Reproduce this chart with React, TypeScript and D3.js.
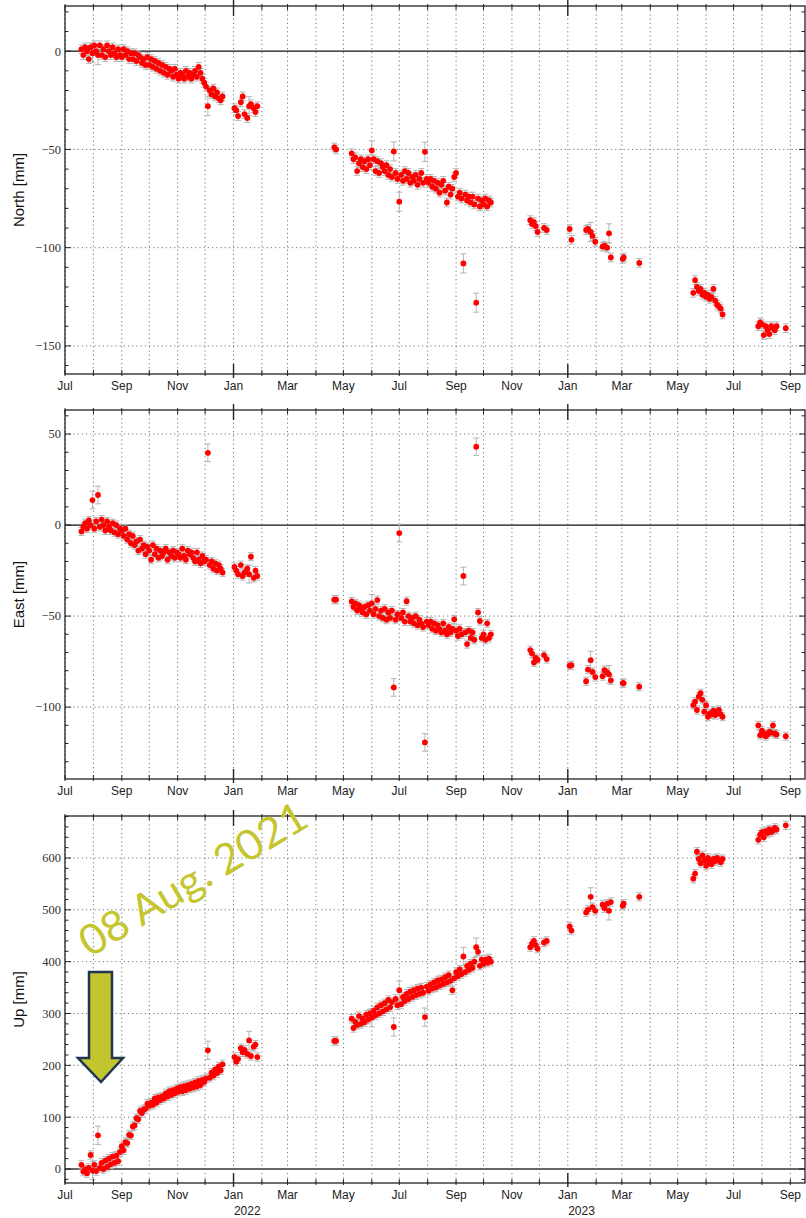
import React from 'react';
import * as d3 from 'd3';

// daily GNSS solutions (shared epochs for the three components)
const dates = [
  // 2021
  '2021-07-19', '2021-07-21', '2021-07-23', '2021-07-25', '2021-07-27', '2021-07-29', '2021-07-31',
  '2021-08-02', '2021-08-04', '2021-08-06', '2021-08-08', '2021-08-10', '2021-08-12', '2021-08-14', '2021-08-16',
  '2021-08-18', '2021-08-20', '2021-08-22', '2021-08-24', '2021-08-26', '2021-08-28', '2021-08-30',
  '2021-09-01', '2021-09-03', '2021-09-05', '2021-09-07', '2021-09-09', '2021-09-11', '2021-09-13', '2021-09-15',
  '2021-09-17', '2021-09-19', '2021-09-21', '2021-09-23', '2021-09-25', '2021-09-27', '2021-09-29',
  '2021-10-01', '2021-10-03', '2021-10-05', '2021-10-07', '2021-10-09', '2021-10-11', '2021-10-13', '2021-10-15',
  '2021-10-17', '2021-10-19', '2021-10-21', '2021-10-23', '2021-10-25', '2021-10-27', '2021-10-29', '2021-10-31',
  '2021-11-02', '2021-11-04', '2021-11-06', '2021-11-08', '2021-11-10', '2021-11-12', '2021-11-14', '2021-11-16',
  '2021-11-18', '2021-11-20', '2021-11-22', '2021-11-24', '2021-11-26', '2021-11-28', '2021-11-30',
  '2021-12-02', '2021-12-04', '2021-12-06', '2021-12-08', '2021-12-10', '2021-12-12', '2021-12-14', '2021-12-16',
  '2021-12-18', '2021-12-20',
  // 2022
  '2022-01-02', '2022-01-04', '2022-01-06', '2022-01-09', '2022-01-11', '2022-01-13', '2022-01-16', '2022-01-18',
  '2022-01-20', '2022-01-23', '2022-01-25', '2022-01-27',
  '2022-04-21', '2022-04-23',
  '2022-05-10', '2022-05-12', '2022-05-14', '2022-05-16', '2022-05-18', '2022-05-20', '2022-05-22', '2022-05-24',
  '2022-05-26', '2022-05-28', '2022-05-30',
  '2022-06-01', '2022-06-03', '2022-06-05', '2022-06-07', '2022-06-09', '2022-06-11', '2022-06-13', '2022-06-15',
  '2022-06-17', '2022-06-19', '2022-06-21', '2022-06-23', '2022-06-25', '2022-06-27', '2022-06-29',
  '2022-07-01', '2022-07-03', '2022-07-05', '2022-07-07', '2022-07-09', '2022-07-11', '2022-07-13', '2022-07-15',
  '2022-07-17', '2022-07-19', '2022-07-21', '2022-07-23', '2022-07-25', '2022-07-27', '2022-07-29', '2022-07-31',
  '2022-08-02', '2022-08-04', '2022-08-06', '2022-08-08', '2022-08-10', '2022-08-12', '2022-08-14', '2022-08-16',
  '2022-08-18', '2022-08-20', '2022-08-22', '2022-08-24', '2022-08-26', '2022-08-28', '2022-08-30',
  '2022-09-01', '2022-09-03', '2022-09-05', '2022-09-07', '2022-09-09', '2022-09-11', '2022-09-13', '2022-09-15',
  '2022-09-17', '2022-09-19', '2022-09-21', '2022-09-23', '2022-09-25', '2022-09-27', '2022-09-29',
  '2022-10-01', '2022-10-03', '2022-10-05', '2022-10-07', '2022-10-09',
  '2022-11-21', '2022-11-23', '2022-11-25', '2022-11-27', '2022-11-29',
  '2022-12-06', '2022-12-09',
  // 2023
  '2023-01-03', '2023-01-05', '2023-01-21', '2023-01-23', '2023-01-26', '2023-01-28', '2023-01-31',
  '2023-02-08', '2023-02-10', '2023-02-13', '2023-02-15', '2023-02-17',
  '2023-03-02', '2023-03-03', '2023-03-20',
  '2023-05-18', '2023-05-20', '2023-05-22', '2023-05-24', '2023-05-26', '2023-05-28', '2023-05-30',
  '2023-06-01', '2023-06-03', '2023-06-05', '2023-06-07', '2023-06-09', '2023-06-11', '2023-06-13', '2023-06-15',
  '2023-06-17', '2023-06-19',
  '2023-07-28', '2023-07-30',
  '2023-08-01', '2023-08-03', '2023-08-05', '2023-08-07', '2023-08-09', '2023-08-11', '2023-08-13', '2023-08-15',
  '2023-08-17', '2023-08-27'
];

const north = [
  1, -2, 2, 0, -4, 2, -1,
  3, 0, -2, 3, -2, 1, -3, 3, 0, -2, 2, -1, -3, 1, -2,
  -3, 1, -2, 0, -4, -1, -4, -1, -5, -2, -3, -6, -4, -7, -3,
  -7, -4, -8, -5, -9, -6, -10, -7, -11, -8, -12, -9, -10, -13, -9, -12,
  -14, -11, -12, -14, -10, -13, -11, -14, -12, -10, -13, -8, -11, -14, -16,
  -18, -28, -20, -22, -19, -23, -21, -24, -25, -23,
  -29, -30, -33, -26, -23, -32, -34, -28, -27, -29, -31, -28,
  -49, -50,
  -52, -55, -54, -61, -57, -55, -59, -56, -60, -55, -58,
  -50.5, -55, -61, -56, -62, -57, -59, -61, -58, -63, -60, -64, -51, -62, -65,
  -76.6, -63, -66, -61, -65, -62, -67, -64, -66, -63, -68, -65, -62, -67, -51.2, -65,
  -67, -65, -69, -66, -70, -67, -72, -68, -66, -71, -77, -69, -73, -70, -64,
  -62, -74, -72, -75, -108, -73, -76, -74, -77, -74, -78, -128, -75, -79, -76,
  -78, -75, -79, -76, -77,
  -86, -88, -87, -89, -92,
  -90, -91,
  -90.5, -96, -91, -90.5, -92, -94, -97,
  -99.5, -99, -100, -92.7, -105,
  -105.7, -105, -107.8,
  -123, -116.5, -120, -122, -121, -124, -123,
  -125, -124, -126, -125, -121, -127, -129, -130, -131, -134,
  -140, -138,
  -139, -144.5, -140, -142, -144, -140, -141, -142, -140, -141
];

const east = [
  -3.5, -1, 1, -2, 2.5, 0, 13.7,
  -2, 2, 16.5, -1, 3, 0, -3, 2, -1, -3, 1, -4, 0, -5, -2,
  -3, -6, -2, -8, -5, -10, -6, -11, -9, -14, -8, -13, -11, -16, -12,
  -14, -19, -11, -16, -13, -18, -14, -17, -15, -13, -19, -15, -17, -14, -18, -15,
  -16, -18, -13, -17, -19, -14, -16, -15, -18, -20, -15, -19, -21, -17, -20,
  -19, 39.7, -22, -20, -24, -21, -25, -22, -24, -26,
  -23, -25, -27, -22, -28, -26, -24, -27, -17.4, -29, -25, -28,
  -41, -41,
  -42, -45, -43, -47, -44, -46, -48, -45, -49, -44, -47,
  -43, -49, -46, -41.2, -50, -47, -51, -46, -52, -48, -51, -47, -89.2, -52, -49,
  -4.4, -51, -48, -53, -41.8, -50, -53, -51, -54, -50, -55, -52, -54, -56, -119.4, -53,
  -55, -53, -57, -54, -58, -55, -57, -59, -54, -58, -60, -56, -59, -57, -51.8,
  -58, -61, -57, -60, -28, -59, -65.4, -58, -62, -59, -63, 43, -48, -52.7, -62,
  -60, -63, -54, -62, -60,
  -68.7, -70.6, -75.5, -73, -74,
  -71.4, -73.6,
  -77.3, -77, -85.8, -79.4, -74.2, -80.7, -83.5,
  -83, -79.7, -81, -82, -85.3,
  -86.8, -86.8, -88.8,
  -98.9, -97, -101.6, -94.3, -92.4, -96, -102.5,
  -99, -105.3, -103.4, -104, -102, -104.4, -103, -101.6, -104, -105.3,
  -110, -115.4,
  -113, -114.5, -116, -115, -113.6, -114, -110, -114.5, -115, -116
];

const up = [
  8, -5, -1, -8, 2, 27, -3,
  8, -4, 65, 2, 12, 0, 16, 4, 20, 9, 24, 12, 26, 15, 33,
  44, 36, 52, 50, 66, 65, 82, 84, 98, 96, 112, 108, 115, 116, 126,
  122, 128, 124, 136, 128, 138, 133, 140, 136, 146, 140, 150, 143, 152, 146, 155,
  149, 158, 150, 160, 152, 162, 155, 164, 157, 167, 159, 170, 162, 172, 168,
  175, 229, 176, 186, 180, 192, 185, 198, 190, 202,
  216, 207, 212, 233, 225, 230, 222, 248, 218, 236, 240, 216,
  247, 247,
  290, 272, 284, 278, 295, 280, 290, 283, 298, 288, 300,
  292, 305, 296, 312, 300, 316, 304, 320, 308, 326, 312, 322, 274, 328, 316,
  345, 318, 332, 324, 338, 328, 342, 332, 345, 335, 348, 338, 350, 340, 293, 352,
  344, 356, 348, 360, 350, 364, 354, 366, 357, 370, 360, 374, 363, 345, 368,
  380, 372, 385, 376, 410, 380, 392, 384, 396, 388, 400, 428, 419, 392, 404,
  396, 404, 398, 406, 400,
  428, 435, 440, 432, 425,
  437, 440,
  468, 460, 495, 500, 525, 505, 498,
  510, 503, 512, 498, 515,
  508, 512, 525,
  560, 570, 612, 598, 590, 605, 595,
  585, 600, 592, 588, 598, 594, 600, 596, 592, 598,
  635, 645,
  650, 640, 652, 648, 655, 650, 653, 658, 655, 663
];

// epochs with poor solutions (wider error bars)
const noisyDates = [
  '2021-07-31', '2021-08-06', '2021-12-04', '2022-01-18', '2022-06-01', '2022-06-25', '2022-07-01',
  '2022-07-29', '2022-09-09', '2022-09-23', '2023-01-26', '2023-02-15'
];

const yearLabels = ['2022', '2023'];

const parse = d3.timeParse('%Y-%m-%d');
const W = 806;
const H = 1218;
const left = 65;
const right = 805;

const x = d3
  .scaleTime()
  .domain([new Date(2021, 6, 1), new Date(2023, 8, 17)])
  .range([left, right]);

const months = x.ticks(d3.timeMonth.every(1));
const fmtMonth = d3.timeFormat('%b');
const fmtY = d3.format('d');

const panels = [
  { name: 'North [mm]', values: north, sigma: 2.2, top: 6, bottom: 374, domain: [-164.3, 23], major: 50, minor: 10, zeroColor: '#111', zeroWidth: 1.2 },
  { name: 'East [mm]', values: east, sigma: 2.2, top: 410, bottom: 779, domain: [-139.5, 63.2], major: 50, minor: 10, zeroColor: '#111', zeroWidth: 1.2 },
  { name: 'Up [mm]', values: up, sigma: 8, top: 816, bottom: 1183, domain: [-27, 681], major: 100, minor: 20, zeroColor: '#666', zeroWidth: 2 }
];

const stepTicks = (lo, hi, step) => d3.range(Math.ceil(lo / step) * step, hi + 1e-9, step);

const Panel = ({ p, showYears }) => {
  const y = d3.scaleLinear().domain(p.domain).range([p.bottom, p.top]);
  const majors = stepTicks(p.domain[0], p.domain[1], p.major);
  const minors = stepTicks(p.domain[0], p.domain[1], p.minor);
  const pts = dates.map((d, i) => ({
    date: parse(d),
    v: p.values[i],
    s: noisyDates.includes(d) ? p.sigma * 2.2 : p.sigma
  })).filter(d => d.v !== undefined);

  return (
    <g>
      {/* vertical monthly grid */}
      {months.map((m, i) => (
        <line key={'vg' + i} x1={x(m)} x2={x(m)} y1={p.top} y2={p.bottom}
          stroke="#777" strokeWidth={1} strokeDasharray="1.2,3" />
      ))}
      {/* horizontal grid at labelled ticks */}
      {majors.filter(v => v !== 0).map(v => (
        <line key={'hg' + v} x1={left} x2={right} y1={y(v)} y2={y(v)}
          stroke="#777" strokeWidth={1} strokeDasharray="1.2,3" />
      ))}
      <line x1={left} x2={right} y1={y(0)} y2={y(0)} stroke={p.zeroColor} strokeWidth={p.zeroWidth} />

      {/* error bars */}
      <g stroke="#b4b4b4" strokeWidth={1}>
        {pts.map((d, i) => {
          const cx = x(d.date);
          const y1 = y(d.v + d.s);
          const y2 = y(d.v - d.s);
          return (
            <g key={'e' + i}>
              <line x1={cx} x2={cx} y1={y1} y2={y2} />
              <line x1={cx - 3} x2={cx + 3} y1={y1} y2={y1} />
              <line x1={cx - 3} x2={cx + 3} y1={y2} y2={y2} />
            </g>
          );
        })}
      </g>
      {/* points */}
      <g fill="#ff0000">
        {pts.map((d, i) => (
          <circle key={'c' + i} cx={x(d.date)} cy={y(d.v)} r={2.9} />
        ))}
      </g>

      {/* frame */}
      <rect x={left} y={p.top} width={right - left} height={p.bottom - p.top}
        fill="none" stroke="#222" strokeWidth={1.3} />

      {/* y ticks, both sides */}
      {minors.map(v => {
        const isMajor = majors.includes(v);
        const len = isMajor ? 6 : 3.5;
        return (
          <g key={'yt' + v} stroke="#222" strokeWidth={1}>
            <line x1={left} x2={left + len} y1={y(v)} y2={y(v)} />
            <line x1={right - len} x2={right} y1={y(v)} y2={y(v)} />
          </g>
        );
      })}
      {majors.map(v => (
        <text key={'yl' + v} x={left - 4} y={y(v)} dy="0.35em" textAnchor="end"
          fontFamily="'Liberation Serif', 'DejaVu Serif', serif" fontSize={12.5} fill="#333">
          {fmtY(v)}
        </text>
      ))}

      {/* x ticks top and bottom */}
      {months.map((m, i) => {
        const isJan = m.getMonth() === 0;
        const xm = x(m);
        return (
          <g key={'xt' + i} stroke="#222" strokeWidth={isJan ? 1.4 : 1}>
            <line x1={xm} x2={xm} y1={p.bottom + (isJan ? 4 : 2)} y2={p.bottom - (isJan ? 10 : 4)} />
            <line x1={xm} x2={xm} y1={p.top - (isJan ? 6 : 2)} y2={p.top + (isJan ? 10 : 4)} />
          </g>
        );
      })}
      {months.filter(m => m.getMonth() % 2 === 0).map((m, i) => (
        <text key={'xl' + i} x={x(m)} y={p.bottom + 16} textAnchor="middle"
          fontFamily="'Liberation Sans', Arial, sans-serif" fontSize={12} fill="#222">
          {fmtMonth(m)}
        </text>
      ))}
      {showYears && months.filter(m => m.getMonth() === 0).map((m, i) => (
        <text key={'yr' + i} x={x(d3.timeDay.offset(m, 15))} y={p.bottom + 32} textAnchor="middle"
          fontFamily="'Liberation Sans', Arial, sans-serif" fontSize={12} fill="#222">
          {yearLabels[i]}
        </text>
      ))}

      <text transform={`translate(24,${(p.top + p.bottom) / 2}) rotate(-90)`} textAnchor="middle"
        fontFamily="'Liberation Sans', Arial, sans-serif" fontSize={15} fill="#111">
        {p.name}
      </text>
    </g>
  );
};

const App = () => {
  return (
    <div style={{ position: 'absolute', left: 0, top: 0 }}>
      <svg width={W} height={H} viewBox={`0 0 ${W} ${H}`} style={{ display: 'block', background: '#fff' }}>
        {panels.map((p, i) => (
          <Panel key={p.name} p={p} showYears={i === panels.length - 1} />
        ))}

        {/* event annotation */}
        <polygon points="89,972 112,972 112,1058 123,1058 101,1082 78,1058 89,1058"
          fill="#c3c52f" stroke="#1f3550" strokeWidth={2.5} strokeLinejoin="miter" />
        <text transform="translate(90,958) rotate(-31)" fontFamily="Lato, 'Open Sans', sans-serif"
          fontSize={42} fill="#c5c62f" textLength={258} lengthAdjust="spacingAndGlyphs">
          08 Aug. 2021
        </text>
      </svg>
    </div>
  );
};

export default App;
